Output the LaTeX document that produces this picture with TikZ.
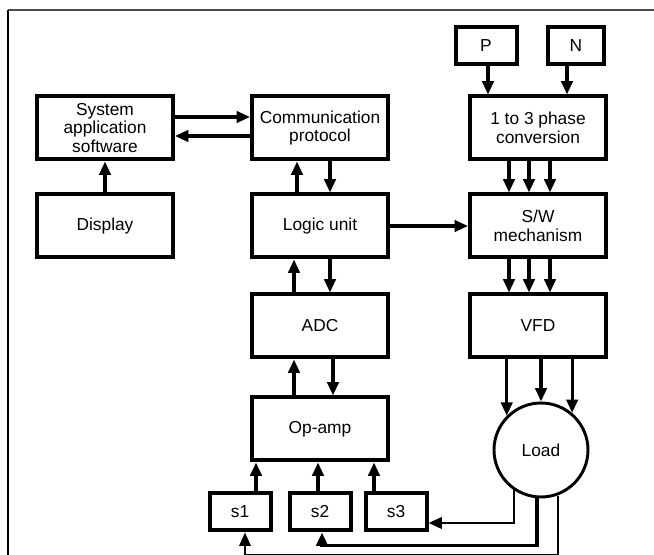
\documentclass[tikz,border=0pt]{standalone}
\usepackage{fontspec}
\setmainfont{Liberation Sans}
\usepackage{tikz}
\usetikzlibrary{arrows.meta, positioning, calc}

\tikzset{
    blockbox/.style={draw, line width=3pt, minimum width=102pt, minimum height=47.25pt,
          align=center, inner sep=1pt, font=\fontsize{13}{14}\selectfont},
    sensbox/.style={blockbox, minimum width=45.75pt, minimum height=27.75pt},
    arr/.style={line width=2.3pt, -{Triangle[length=10pt, width=8.5pt]}},
}

\begin{document}
\begin{tikzpicture}[x=0.75pt, y=-0.75pt]
    \useasboundingbox (0,0) rectangle (654,555);

    % frame
    \draw[gray!60!black, line width=1.3pt] (8,10) -- (654,10);
    \draw[line width=1.3pt] (8,10) -- (8,555);

    % left column
    \node[blockbox] (sys) at (105,128) {System\\application\\software};
    \node[blockbox] (disp) at (105,226) {Display};

    % middle column
    \node[blockbox] (comm) at (320,128) {Communication\\protocol};
    \node[blockbox] (logic) at (320,226) {Logic unit};
    \node[blockbox] (adc) at (320,326) {ADC};
    \node[blockbox] (opamp) at (320,429) {Op-amp};

    % sensors
    \node[sensbox] (s1) at (240,512) {s1};
    \node[sensbox] (s2) at (320,512) {s2};
    \node[sensbox] (s3) at (396,512) {s3};

    % supply and drive
    \node[sensbox] (pin) at (486,46) {P};
    \node[sensbox, minimum width=42pt] (nin) at (576,46) {N};
    \node[blockbox] (conv) at (538,128) {1 to 3 phase\\conversion};
    \node[blockbox] (sw) at (538,226) {S/W\\mechanism};
    \node[blockbox] (vfd) at (538,326) {VFD};
    \node[draw, circle, line width=2.2pt, minimum size=70.5pt, inner sep=0pt,
          font=\fontsize{13}{14}\selectfont] (load) at (541,450) {Load};

    % software links
    \draw[arr] (disp) -- (sys);
    \draw[arr] ($(sys.east)+(0,-11)$) -- ($(comm.west)+(0,-11)$);
    \draw[arr] ($(comm.west)+(0,8)$) -- ($(sys.east)+(0,8)$);

    % signal chain
    \draw[arr] ($(logic.north)+(-23,0)$) -- ($(comm.south)+(-23,0)$);
    \draw[arr] ($(comm.south)+(10,0)$) -- ($(logic.north)+(10,0)$);
    \draw[arr] ($(adc.north)+(-26,0)$) -- ($(logic.south)+(-26,0)$);
    \draw[arr] ($(logic.south)+(10,0)$) -- ($(adc.north)+(10,0)$);
    \draw[arr] ($(opamp.north)+(-26,0)$) -- ($(adc.south)+(-26,0)$);
    \draw[arr] ($(adc.south)+(13,0)$) -- ($(opamp.north)+(13,0)$);
    \draw[arr] (logic) -- (sw);

    % sensors to op-amp
    \draw[arr] ($(s1.north)+(16,0)$) -- ($(s1.north |- opamp.south)+(16,0)$);
    \draw[arr] ($(s2.north)+(-2,0)$) -- ($(s2.north |- opamp.south)+(-2,0)$);
    \draw[arr] ($(s3.north)+(-22,0)$) -- ($(s3.north |- opamp.south)+(-22,0)$);

    % power path
    \draw[arr] ($(pin.south)+(2,0)$) -- ($(pin.south |- conv.north)+(2,0)$);
    \draw[arr] ($(nin.south)+(-9,0)$) -- ($(nin.south |- conv.north)+(-9,0)$);
    \foreach \dx in {-29,-9,12} {
        \draw[arr] ($(conv.south)+(\dx,0)$) -- ($(sw.north)+(\dx,0)$);
        \draw[arr] ($(sw.south)+(\dx,0)$) -- ($(vfd.north)+(\dx,0)$);
    }
    \foreach \ang in {135,90,50}
        \draw[arr] (vfd.south -| load.\ang) -- (load.\ang);

    % feedback from load
    \draw[arr, line width=2pt] (load.236) |- ($(s3.east)+(0,11)$);
    \draw[arr, line width=2.6pt] (load.265) |- ($(s2.south)+(2,13)$) -- ($(s2.south)+(2,0)$);
    \draw[arr, line width=1.4pt] (load.290) |- ($(s1.south)+(5,22)$) -- ($(s1.south)+(5,0)$);
\end{tikzpicture}
\end{document}
